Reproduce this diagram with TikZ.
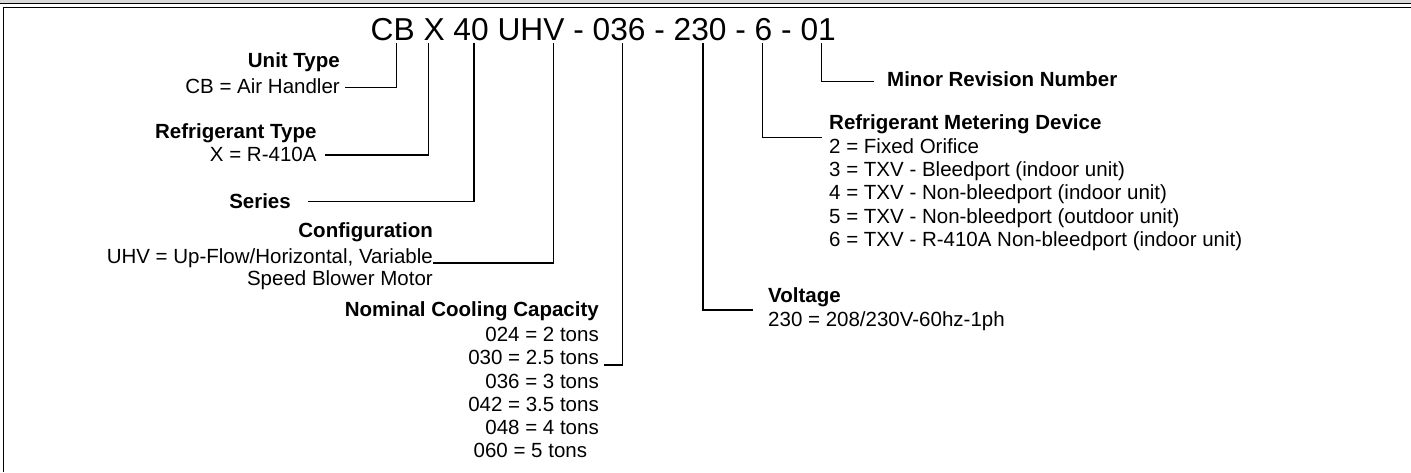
\documentclass[tikz,border=0pt]{standalone}
\usepackage{fontspec}
\setmainfont{Liberation Sans}
\begin{document}
\begin{tikzpicture}[x=1pt,y=-1pt,
  lbl/.style={inner sep=0pt, font=\fontsize{20.5}{24}\selectfont},
  hd/.style={inner sep=0pt, font=\fontsize{20.5}{24}\selectfont\bfseries},
  conn/.style={line width=1.3pt}]
\useasboundingbox (0,0) rectangle (1411,472);
% frame
\fill[black!15] (0,0) rectangle (1411,3.4);
\draw[line width=1pt] (0,3.9) -- (1411,3.9);
\draw[line width=1.3pt] (3.2,472) -- (3.2,7.3) -- (1411,7.3);
% model code
\node[anchor=base west, inner sep=0pt, font=\fontsize{31.7}{36}\selectfont] (code) at (370.5,40.7) {CB X 40 UHV - 036 - 230 - 6 - 01};
\coordinate (tCB) at (396.7,43);
\coordinate (tX) at (428.2,43);
\coordinate (t40) at (474,43);
\coordinate (tUHV) at (553.7,43);
\coordinate (t036) at (622.3,43);
\coordinate (t230) at (703,43);
\coordinate (t6) at (762.8,43);
\coordinate (t01) at (821.3,43);
% unit type
\node[hd, anchor=base east] (uth) at (340,67.5) {Unit Type};
\node[lbl, anchor=base east] (utv) at (340,93.3) {CB = Air Handler};
\coordinate (sCB) at (345,87.3);
\draw[conn] (sCB) -| (tCB);
% refrigerant type
\node[hd, anchor=base east] (rth) at (316.7,138.3) {Refrigerant Type};
\node[lbl, anchor=base east] (rtv) at (316.7,161.7) {X = R-410A};
\coordinate (sX) at (325,155);
\draw[conn] (sX) -| (tX);
% series
\node[hd, anchor=base east] (ser) at (291,208.3) {Series};
\coordinate (s40) at (308,201.7);
\draw[conn] (s40) -| (t40);
% configuration
\node[hd, anchor=base east] (cfh) at (433,237.3) {Configuration};
\node[lbl, anchor=base east] (cfv) at (433,263) {UHV = Up-Flow/Horizontal, Variable};
\node[lbl, anchor=base east] (cfv2) at (433,285) {Speed Blower Motor};
\coordinate (sUHV) at (433,263);
\draw[conn] (sUHV) -| (tUHV);
% nominal cooling capacity
\node[hd, anchor=base east] (nch) at (599,316.5) {Nominal Cooling Capacity};
\node[lbl, anchor=base east] (nc1) at (599,341.7) {024 = 2 tons};
\node[lbl, anchor=base east] (nc2) at (599,364.8) {030 = 2.5 tons};
\node[lbl, anchor=base east] (nc3) at (599,388) {036 = 3 tons};
\node[lbl, anchor=base east] (nc4) at (599,411.2) {042 = 3.5 tons};
\node[lbl, anchor=base east] (nc5) at (599,434.3) {048 = 4 tons};
\node[lbl, anchor=base east] (nc6) at (587.3,457.5) {060 = 5 tons};
\coordinate (s036) at (604,365);
\draw[conn] (s036) -| (t036);
% voltage
\node[hd, anchor=base west] (vh) at (768,302.5) {Voltage};
\node[lbl, anchor=base west] (vv) at (768,326.5) {230 = 208/230V-60hz-1ph};
\coordinate (s230) at (752.5,310);
\draw[conn] (s230) -| (t230);
% metering device
\node[hd, anchor=base west] (mdh) at (829,129.3) {Refrigerant Metering Device};
\node[lbl, anchor=base west] (md2) at (829,153.3) {2 = Fixed Orifice};
\node[lbl, anchor=base west] (md3) at (829,176.6) {3 = TXV - Bleedport (indoor unit)};
\node[lbl, anchor=base west] (md4) at (829,199.9) {4 = TXV - Non-bleedport (indoor unit)};
\node[lbl, anchor=base west] (md5) at (829,223.2) {5 = TXV - Non-bleedport (outdoor unit)};
\node[lbl, anchor=base west] (md6) at (829,246.5) {6 = TXV - R-410A Non-bleedport (indoor unit)};
\coordinate (s6) at (821.7,137.3);
\draw[conn] (s6) -| (t6);
% minor revision
\node[hd, anchor=base west] (mr) at (887,86) {Minor Revision Number};
\coordinate (s01) at (874,81.7);
\draw[conn] (s01) -| (t01);
\end{tikzpicture}
\end{document}
